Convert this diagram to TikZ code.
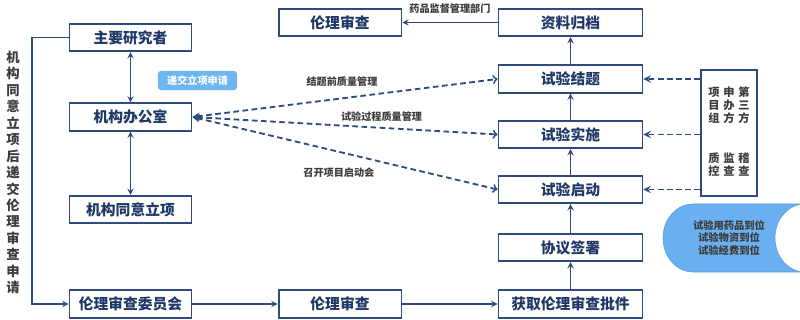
\documentclass[tikz,border=0pt]{standalone}
\usepackage{fontspec}
\setmainfont{Noto Sans CJK SC}
\definecolor{navy}{HTML}{2E4B7F}
\definecolor{navytext}{HTML}{1F3868}
\definecolor{greytext}{HTML}{3C3C3C}
\definecolor{tagblue}{HTML}{6DB5F3}
\definecolor{cylblue}{HTML}{6AAFEF}
\definecolor{cyledge}{HTML}{5C9BD8}
\begin{document}
\begin{tikzpicture}[x=0.025cm,y=-0.025cm,>=stealth]
  \tikzstyle{box}=[draw=navy, line width=1.3pt, fill=white, minimum height=0.68cm, inner sep=1pt,
    text=navytext, font=\fontsize{10.5}{12}\selectfont\bfseries]
  \tikzstyle{lbl}=[font=\fontsize{7.2}{9}\selectfont\bfseries, text=greytext, inner sep=1pt]
  \tikzstyle{link}=[navy, line width=1pt]
  \tikzstyle{qa}=[navy, line width=1.3pt, dash pattern=on 4pt off 2.5pt]

  \useasboundingbox (0,0) rectangle (800,320);

  % left column
  \node[box, minimum width=3.05cm] (pi) at (130.5,37.5) {主要研究者};
  \node[box, minimum width=3.05cm] (office) at (130.5,117) {机构办公室};
  \node[box, minimum width=3.05cm] (approve) at (130.5,209.5) {机构同意立项};
  \node[box, minimum width=3.05cm] (committee) at (130.5,304) {伦理审查委员会};

  % middle
  \node[box, minimum width=3.07cm] (ethicstop) at (340,22.5) {伦理审查};
  \node[box, minimum width=3.07cm] (ethicsbot) at (340,304) {伦理审查};

  % right column
  \node[box, minimum width=3.6cm] (archive) at (570.5,22.5) {资料归档};
  \node[box, minimum width=3.6cm] (close) at (570.5,79) {试验结题};
  \node[box, minimum width=3.6cm] (conduct) at (570.5,134.5) {试验实施};
  \node[box, minimum width=3.6cm] (start) at (570.5,189.5) {试验启动};
  \node[box, minimum width=3.6cm] (sign) at (570.5,247.5) {协议签署};
  \node[box, minimum width=3.6cm] (approval) at (570.5,304) {获取伦理审查批件};

  % side notes
  \node[font=\fontsize{9.5}{11.7}\selectfont\bfseries, text=greytext, align=center, inner sep=0pt] (apply) at (13,172.5)
    {机\\构\\同\\意\\立\\项\\后\\递\\交\\伦\\理\\审\\查\\申\\请};
  \node[fill=tagblue, rounded corners=2pt, minimum width=1.975cm, minimum height=0.475cm, inner sep=1pt,
    text=white, font=\fontsize{7.2}{9}\selectfont\bfseries] (submit) at (197.5,80.5) {递交立项申请};

  % quality control box
  \node[draw=navy, line width=1.3pt, minimum width=1.4cm, minimum height=3.15cm] (party) at (729,133) {};
  \node[font=\fontsize{8}{8.5}\selectfont\bfseries, text=greytext, inner sep=0pt] (partyname) at (729,106.5)
    {\begin{tabular}{@{}c@{\hspace{2.6pt}}c@{\hspace{2.6pt}}c@{}}项&申&第\\目&办&三\\组&方&方\end{tabular}};
  \node[font=\fontsize{8}{8.5}\selectfont\bfseries, text=greytext, inner sep=0pt] (partyrole) at (729,166)
    {\begin{tabular}{@{}c@{\hspace{2.6pt}}c@{\hspace{2.6pt}}c@{}}质&监&稽\\控&查&查\end{tabular}};

  % supplies
  \begin{scope}
    \clip (0,0) rectangle (800,320);
    \draw[cyledge, fill=cylblue, thin] (693,204) arc[start angle=270, end angle=90, x radius=30, y radius=34]
      -- (805,272) -- (805,204) -- cycle;
    \draw[cyledge, fill=white, thin] (805,238) ellipse[x radius=30, y radius=34];
  \end{scope}
  \node[font=\fontsize{7.3}{9}\selectfont\bfseries, text=greytext, align=center] (supply) at (729,238)
    {试验用药品到位\\试验物资到位\\试验经费到位};

  % connectors
  \coordinate (loop) at (32,37.5);
  \draw[link, <->] (pi) -- (office);
  \draw[link, <->] (office) -- (approve);
  \draw[link, ->] (pi.west) -- (loop) |- (committee.west);
  \draw[link, ->] (committee) -- (ethicsbot);
  \draw[link, ->] (ethicsbot) -- (approval);
  \foreach \a/\b in {approval/sign, sign/start, start/conduct, conduct/close, close/archive} {
    \draw[link, ->] (\a) -- (\b);
  }
  \draw[link, ->] (archive) -- node[lbl, above=5pt] {药品监督管理部门} (ethicstop);

  \draw[qa, stealth-to] (office.east) -- node[lbl, pos=0.49, above=7pt] {结题前质量管理} (close.west);
  \draw[qa, stealth-to] (office.east) -- node[lbl, pos=0.62, above=3pt] {试验过程质量管理} (conduct.west);
  \draw[qa, stealth-to] (office.east) -- node[lbl, pos=0.48, below=10pt] {召开项目启动会} (start.west);
  \foreach \s in {close, conduct, start} {
    \draw[qa, ->] (party.west |- \s) -- (\s.east);
  }
\end{tikzpicture}
\end{document}
